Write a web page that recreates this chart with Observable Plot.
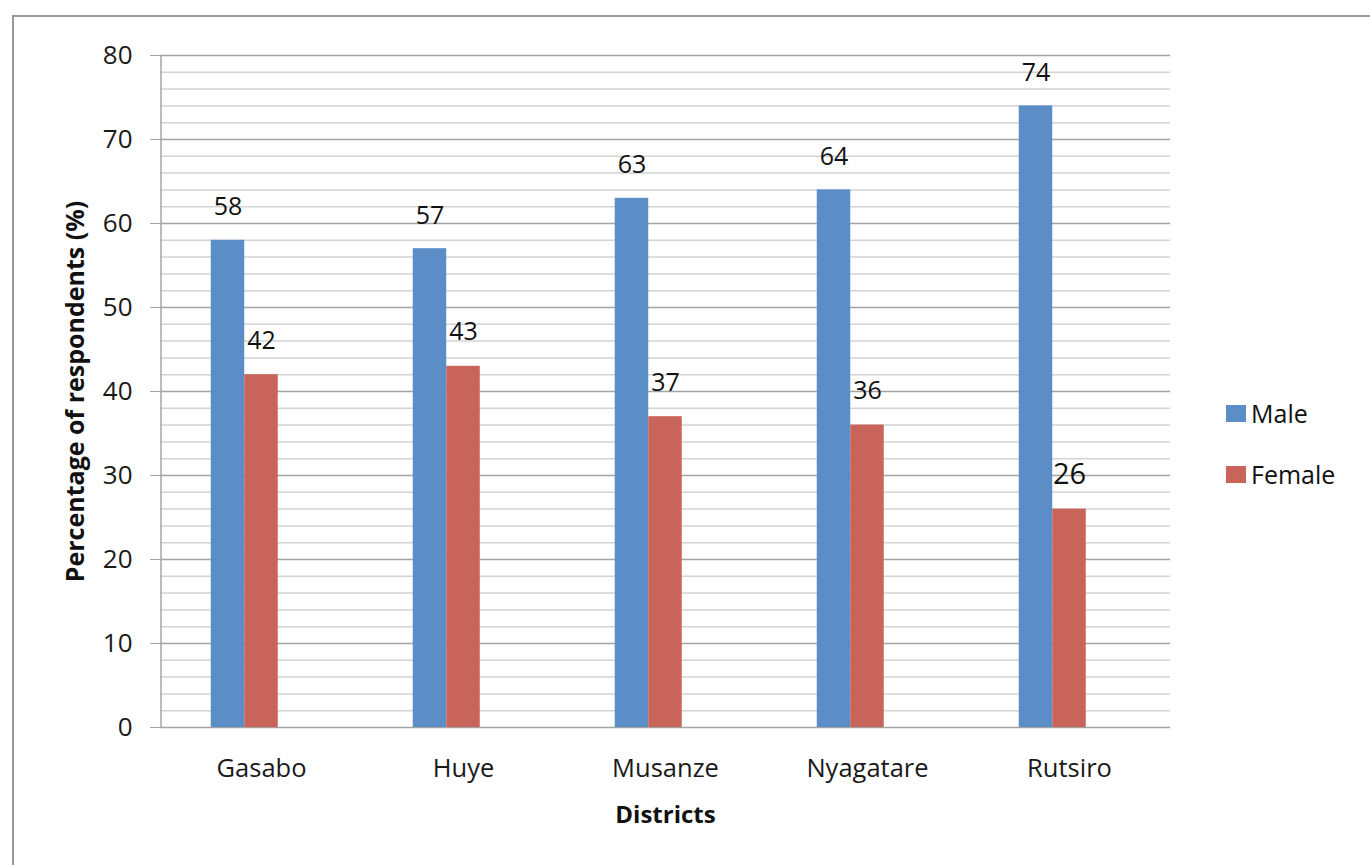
<!DOCTYPE html>
<html>
<head>
<meta charset="utf-8">
<script src="https://cdn.jsdelivr.net/npm/d3@7"></script>
<script src="https://cdn.jsdelivr.net/npm/@observablehq/plot@0.6"></script>
<style>
  html, body { margin: 0; padding: 0; background: #fff; }
  body { width: 1370px; height: 865px; position: relative; overflow: hidden; font-family: "Open Sans", sans-serif; }
  #chart { position: absolute; left: 0; top: 0; }
  #border { position: absolute; left: 12px; top: 15px; width: 1400px; height: 900px;
            border-top: 2px solid #9a9a9a; border-left: 2px solid #9a9a9a; pointer-events: none; }
  .legend { position: absolute; left: 1226px; font-size: 25px; color: #111; display: flex; align-items: center; }
  .legend span.sw { display: inline-block; width: 20px; height: 17px; margin-right: 5px; }
</style>
</head>
<body>
<div id="chart"></div>
<div id="border"></div>
<div class="legend" style="top: 396px;"><span class="sw" style="background:#5b8ec7"></span>Male</div>
<div class="legend" style="top: 457px;"><span class="sw" style="background:#c9645a"></span>Female</div>
<script>
// Share of respondents by sex in five districts
const districts = ["Gasabo", "Huye", "Musanze", "Nyagatare", "Rutsiro"];
const male = [58, 57, 63, 64, 74];
const female = [42, 43, 37, 36, 26];
const yTicks = [0, 10, 20, 30, 40, 50, 60, 70, 80];
const minorTicks = [2, 4, 6, 8, 12, 14, 16, 18, 22, 24, 26, 28, 32, 34, 36, 38,
                    42, 44, 46, 48, 52, 54, 56, 58, 62, 64, 66, 68, 72, 74, 76, 78];

const rows = districts.map((d, i) => ({district: d, male: male[i], female: female[i]}));

const blue = "#5b8ec7";
const red = "#c9645a";
const font = "Open Sans, sans-serif";

// vertical axis line along the left edge of the frame
const axisLine = (index, scales, values, dims) => {
  const [y0, y1] = [scales.y(0), scales.y(80)];
  return d3.create("svg:line")
    .attr("x1", dims.marginLeft + 1).attr("x2", dims.marginLeft + 1)
    .attr("y1", y0).attr("y2", y1)
    .attr("stroke", "#a6a6a6").attr("stroke-width", 1.5)
    .node();
};

const chart = Plot.plot({
  width: 1370,
  height: 865,
  marginLeft: 160,
  marginRight: 200,
  marginTop: 55,
  marginBottom: 138,
  style: {background: "transparent", fontFamily: font, color: "#1a1a1a"},
  x: {type: "band", domain: districts, padding: 0, axis: null},
  y: {domain: [0, 80], axis: null},
  marks: [
    Plot.ruleY(minorTicks, {stroke: "#d3d3d3", strokeWidth: 1.5}),
    Plot.ruleY(yTicks, {stroke: "#a3a3a3", strokeWidth: 1.5}),
    axisLine,
    Plot.barY(rows, {x: "district", y: "male", fill: blue, insetLeft: 50.75, insetRight: 117.75}),
    Plot.barY(rows, {x: "district", y: "female", fill: red, insetLeft: 84.25, insetRight: 84.25}),
    Plot.text(rows, {x: "district", y: "male", text: d => String(d.male), dx: -33.5, dy: -33,
                     fontSize: 25, fill: "#111", lineAnchor: "middle"}),
    Plot.text(rows, {x: "district", y: "female", text: d => String(d.female), dy: -34,
                     fontSize: d => d.district === "Rutsiro" ? 29 : 25, fill: "#111", lineAnchor: "middle"}),
    Plot.axisY({ticks: yTicks, tickSize: 10, tickPadding: 18, stroke: "#a3a3a3", fill: "#1a1a1a",
                fontSize: 26, label: null}),
    Plot.axisX({tickSize: 0, tickPadding: 31, fill: "#1a1a1a", fontSize: 25.5, label: null}),
    Plot.text(["Percentage of respondents (%)"], {frameAnchor: "left", rotate: -90, dx: -85,
              textAnchor: "middle", fontSize: 25, fontWeight: "bold", fill: "#111", lineAnchor: "middle"}),
    Plot.text(["Districts"], {frameAnchor: "bottom", dy: 88, fontSize: 24, fontWeight: "bold",
              fill: "#111", lineAnchor: "middle"})
  ]
});

document.getElementById("chart").appendChild(chart);
</script>
</body>
</html>
